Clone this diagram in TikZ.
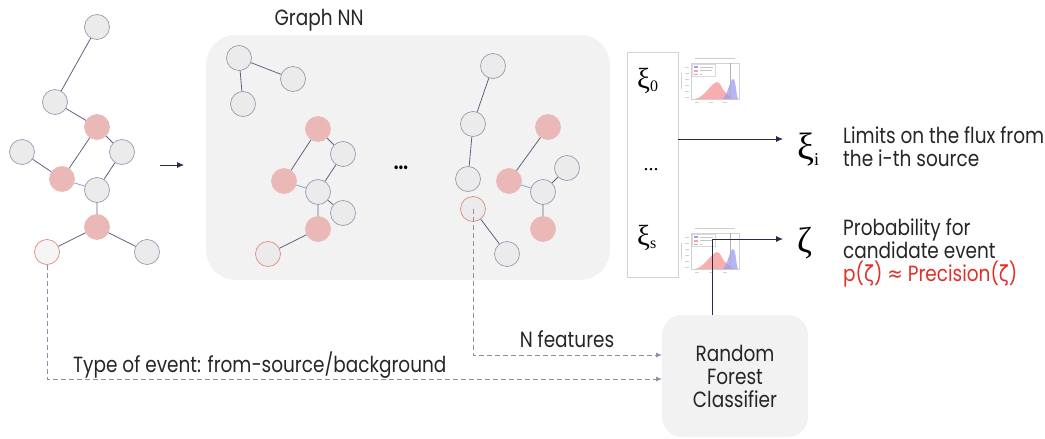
\documentclass[tikz,border=0pt]{standalone}
\usepackage{fontspec}
\setmainfont{Poppins}[FakeStretch=0.84]
\newfontfamily\symfont{DejaVu Sans}[FakeStretch=0.84]
\newfontfamily\grkfont{Liberation Serif}
\usetikzlibrary{arrows.meta,calc}

\definecolor{nodegray}{HTML}{EBEBEB}
\definecolor{nodeline}{HTML}{9A9CB0}
\definecolor{nodepink}{HTML}{EBB8B8}
\definecolor{srcred}{HTML}{E58A80}
\definecolor{edgecol}{HTML}{5E6380}
\definecolor{edgeblue}{HTML}{7FA6D6}
\definecolor{navy}{HTML}{262B4A}
\definecolor{dashcol}{HTML}{8C90A8}
\definecolor{panel}{HTML}{F2F2F2}
\definecolor{probred}{HTML}{E0302A}
\definecolor{histred}{HTML}{F7A0A0}
\definecolor{histblue}{HTML}{9C9CF2}

% Greek symbol with a lowered upright index: size, glyph, index size, index, drop
\newcommand{\grksub}[5]{{\grkfont\fontsize{#1}{#1}\selectfont #2\raisebox{-#5pt}{\fontsize{#3}{#3}\selectfont #4}}}

\tikzset{
  gnode/.style={circle, draw=nodeline, fill=nodegray, line width=0.7pt, minimum size=25pt, inner sep=0pt},
  pnode/.style={circle, draw=nodepink, fill=nodepink, line width=0.7pt, minimum size=25pt, inner sep=0pt},
  snode/.style={circle, draw=srcred, fill=#1, line width=0.7pt, minimum size=25pt, inner sep=0pt},
  link/.style={draw=edgecol, line width=0.8pt},
  blink/.style={draw=edgeblue, line width=0.8pt},
  arr/.style={draw=navy, line width=0.8pt, -{Latex[length=7pt,width=6pt]}},
  dasharr/.style={draw=dashcol, line width=0.8pt, dash pattern=on 5pt off 3pt, -{Latex[length=6pt,width=5pt]}},
  label/.style={font=\fontsize{22}{23}\selectfont, text=black!85, inner sep=0pt},
  pics/hist/.style={code={
    % small plot: frame, title, legend and two histograms
    \draw[gray!35, line width=0.3pt] (0,0) rectangle (48,36);
    \draw[gray!40, line width=0.8pt] (4,-5) -- (44,-5);
    \foreach \yy in {4,10,16,22,28,34} {\draw[gray!35, line width=0.7pt] (-6,\yy) -- (-2,\yy);}
    \draw[gray!35, line width=0.7pt] (-10,10) -- (-10,26);
    \foreach \xx in {6,20,34} {\draw[gray!35, line width=0.7pt] (\xx-2,39) -- (\xx+2,39);}
    \fill[histred, opacity=0.85] (4,36) .. controls (14,34) and (20,20) .. (26,19)
         .. controls (30,19) and (31,27) .. (34,29) .. controls (37,31) and (39,34) .. (42,36) -- cycle;
    \fill[histblue, opacity=0.75] (32,36) .. controls (36,33) and (39,16) .. (42,16)
         .. controls (45,16) and (45,32) .. (47,36) -- cycle;
    \draw[gray!60, line width=0.3pt] (39,0) -- (39,36);
    \fill[white, opacity=0.8] (1.5,1) rectangle (24,13);
    \draw[gray!30, line width=0.2pt] (1.5,1) rectangle (24,13);
    \fill[histblue] (3,3) rectangle (7,5);
    \fill[histred] (3,6.5) rectangle (7,8.5);
    \draw[gray!60, line width=0.4pt] (3,11) -- (7,11);
    \draw[gray!45, line width=0.6pt] (9,4) -- (22,4) (9,7.5) -- (21,7.5) (9,11) -- (11,11);
  }}
}

\begin{document}
\begin{tikzpicture}[x=1pt, y=-1pt]
\useasboundingbox (0,0) rectangle (1045,439);

% ---------------- input event graph ----------------
\node[gnode] (A) at (97,27) {};
\node[gnode] (B) at (55,102) {};
\node[pnode] (C) at (97,127) {};
\node[gnode] (D) at (22,152) {};
\node[gnode] (E) at (122,152) {};
\node[pnode] (F) at (62,179) {};
\node[gnode] (G) at (97,190) {};
\node[pnode] (H) at (97,227) {};
\node[snode=white!96!black] (I) at (47,252) {};
\node[gnode] (J) at (147,252) {};
\path[link] (A) -- (B) (B) -- (C) (C) -- (E) (C) -- (F) (D) -- (F) (E) -- (G) (G) -- (H) (H) -- (I) (H) -- (J);
\path[blink] (F) -- (G);

\coordinate (g0) at (160,165);
\coordinate (g1) at (184,165);
\draw[arr] (g0) -- (g1);

% ---------------- graph neural network panel ----------------
\node[fill=panel, rounded corners=30pt, minimum width=404pt, minimum height=245pt, inner sep=0pt] (nn) at (408,157.5) {};
\node[label, anchor=base] (nntitle) at (319,25) {Graph NN};

\node[gnode] (a1) at (239,58) {};
\node[gnode] (a2) at (293,79) {};
\node[gnode] (a3) at (243,104) {};
\path[link] (a1) -- (a2) (a1) -- (a3);

\node[pnode] (b1) at (318,129) {};
\node[gnode] (b2) at (343,154) {};
\node[pnode] (b3) at (284,181) {};
\node[gnode] (b4) at (318,192) {};
\node[gnode] (b5) at (343,213) {};
\node[pnode] (b6) at (318,229) {};
\node[snode=nodegray] (b7) at (268,254) {};
\path[link] (b1) -- (b2) (b1) -- (b3) (b2) -- (b4) (b4) -- (b5) (b4) -- (b6) (b6) -- (b7);
\path[blink] (b3) -- (b4);

\node[font=\fontsize{20}{20}\selectfont\bfseries, inner sep=0pt, anchor=base] (dots) at (401,169) {...};

\node[gnode] (c1) at (493,66) {};
\node[gnode] (c2) at (473,124) {};
\node[gnode] (c3) at (468,179) {};
\node[snode=nodegray] (c4) at (473,209) {};
\node[gnode] (c5) at (507,254) {};
\path[link] (c1) -- (c2) (c2) -- (c3) (c4) -- (c5);

\node[pnode] (d1) at (548,127) {};
\node[gnode] (d2) at (567,168) {};
\node[pnode] (d3) at (509,181) {};
\node[gnode] (d4) at (543,192) {};
\node[pnode] (d5) at (543,229) {};
\path[link] (d1) -- (d3) (d4) -- (d2) (d4) -- (d5);
\path[blink] (d3) -- (d4);

% ---------------- output column ----------------
\node[draw=gray!35, line width=0.8pt, minimum width=51pt, minimum height=225pt, inner sep=0pt] (xibox) at (652.5,164.5) {};
\node[anchor=base west, inner sep=0pt] (xi0) at (637,88) {\grksub{29}{ξ}{16}{0}{3}};
\node[anchor=base, inner sep=0pt, font=\grkfont\fontsize{20}{20}\selectfont] (xidots) at (651,170) {...};
\node[anchor=base west, inner sep=0pt] (xis) at (637,245) {\grksub{29}{ξ}{16}{s}{3}};

\pic at (691,63) {hist};
\pic at (691,233) {hist};

\node[anchor=base west, inner sep=0pt] (xii) at (797,159) {\grksub{38}{ξ}{18}{i}{6}};
\node[anchor=base west, inner sep=0pt] (zeta) at (797,252) {\grkfont\fontsize{36}{36}\selectfont ζ};
\coordinate (xiout) at (678,139);
\coordinate (xiin) at (783,139);
\draw[arr] (xiout) -- (xiin);

% multi-line labels are placed by the baseline of their last line
\node[label, anchor=base west, align=left] (limits) at (843,166)
  {Limits on the flux from\\the i-th source};
\node[label, anchor=base west, align=left] (prob) at (843,281)
  {Probability for\\candidate event\\\textcolor{probred}{p({\symfont ζ}) {\symfont ≈} Precision({\symfont ζ})}};

% ---------------- classifier ----------------
\node[fill=panel, rounded corners=20pt, minimum width=146pt, minimum height=122pt, inner sep=0pt,
      label, align=center] (rf) at (735,376) {Random\\Forest\\Classifier};
\coordinate (rfout) at (712,315);
\coordinate (zin) at (783,239);
\draw[arr] (rfout) |- (zin);

\coordinate (rfin1) at (662,355);
\coordinate (rfin2) at (662,379);
\draw[dasharr] (c4.center) |- (rfin1);
\draw[dasharr] (I.south) |- (rfin2);
\node[label, anchor=base] (nfeat) at (567,347) {N features};
\node[label, anchor=base west] (evtype) at (73,372) {Type of event: from-source/background};

\end{tikzpicture}
\end{document}
